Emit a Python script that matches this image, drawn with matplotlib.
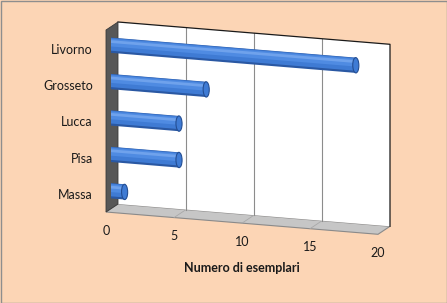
import numpy as np
import matplotlib
matplotlib.use('Agg')
import matplotlib.pyplot as plt
import matplotlib.transforms as mtransforms
from matplotlib.patches import Polygon, Ellipse, Rectangle

# data
cities = ['Massa', 'Pisa', 'Lucca', 'Grosseto', 'Livorno']
counts = [1, 5, 5, 7, 18]
ticks = [0, 5, 10, 15, 20]
xlabel = 'Numero di esemplari'

plt.rcParams['font.family'] = ['Lato', 'DejaVu Sans']

fig = plt.figure(figsize=(4.47, 3.03), dpi=100)
fig.patch.set_facecolor('#FCD5B5')
ax = fig.add_axes([0, 0, 1, 1])
ax.set_xlim(0, 447)
ax.set_ylim(303, 0)
ax.axis('off')

# pseudo 3d projection (value, category) -> pixel
sx, x0 = 13.6, 118.0
sc, y0 = 36.4, 185.8
k = 1.115
wall = mtransforms.Affine2D(np.array([[sx, 0, x0], [k, -sc, y0], [0, 0, 1]]))
floor = mtransforms.Affine2D(np.array([[sx, -12, x0], [k, 8, y0 + 0.5 * sc], [0, 0, 1]]))
side = mtransforms.Affine2D(np.array([[-12, 0, x0], [8, -sc, y0], [0, 0, 1]]))
wall_tf = wall + ax.transData
floor_tf = floor + ax.transData
side_tf = side + ax.transData
bar_tf = wall + mtransforms.Affine2D().translate(-7, 5) + ax.transData

vmax = ticks[-1]
n = len(cities)
ylo, yhi = -0.5, n - 0.5

# floor
ax.add_patch(Polygon([[0, 0], [vmax, 0], [vmax, 1], [0, 1]], closed=True,
                     transform=floor_tf, facecolor='#C6C6C6', edgecolor='#8A8A8A', lw=0.8, zorder=1))
for t in ticks[1:-1]:
    ax.plot([t, t], [0, 1], color='#A8A8A8', lw=0.6, transform=floor_tf, zorder=1.5)

# back wall
ax.add_patch(Polygon([[0, ylo], [vmax, ylo], [vmax, yhi], [0, yhi]], closed=True,
                     transform=wall_tf, facecolor='white', edgecolor='none', zorder=2))
for t in ticks[1:-1]:
    ax.plot([t, t], [ylo, yhi], color='#8C8C8C', lw=0.8, transform=wall_tf, zorder=2.5)
ax.plot([0, vmax, vmax], [yhi, yhi, ylo], color='#1A1A1A', lw=0.9, transform=wall_tf, zorder=2.6)

# side wall
ax.add_patch(Polygon([[0, ylo], [1, ylo], [1, yhi], [0, yhi]], closed=True,
                     transform=side_tf, facecolor='#575757', edgecolor='#3A3A3A', lw=0.6, zorder=3))

# cylinders
ypos = np.arange(n)
h = 0.42
layers = [(1.0, 0.0, '#2A58A3'), (0.84, 0.025, '#3F7BD4'),
          (0.5, 0.07, '#4F8BE2'), (0.18, 0.10, '#6FA2EC')]
for frac, off, col in layers:
    ax.barh(ypos + off, counts, height=h * frac, left=0, color=col,
            transform=bar_tf, zorder=4)
for yy, v in zip(ypos, counts):
    ax.add_patch(Ellipse((v, yy), 0.45, h, transform=bar_tf,
                         facecolor='#3F7BD4', edgecolor='#244E93', lw=0.8, zorder=5))

# category labels
lab_tf = wall + mtransforms.Affine2D().translate(-25, 9.5) + ax.transData
for yy, name in zip(ypos, cities):
    ax.text(0, yy, name, transform=lab_tf, ha='right', va='center',
            fontsize=9, color='#1A1A1A', zorder=6)

# value ticks
tick_tf = floor + mtransforms.Affine2D().translate(0, 18.7) + ax.transData
for t in ticks:
    ax.text(t, 1, str(t), transform=tick_tf, ha='center', va='center',
            fontsize=9, color='#1A1A1A', zorder=6)

ax.text(242, 268, xlabel, ha='center', va='center', fontsize=9,
        fontweight='bold', color='#1A1A1A')

# outer border
ax.add_patch(Rectangle((0.5, 0.5), 446, 302, facecolor='none', edgecolor='#8E8E8E', lw=1.0, zorder=7))

fig.savefig('out.png', dpi=100, facecolor=fig.get_facecolor())
